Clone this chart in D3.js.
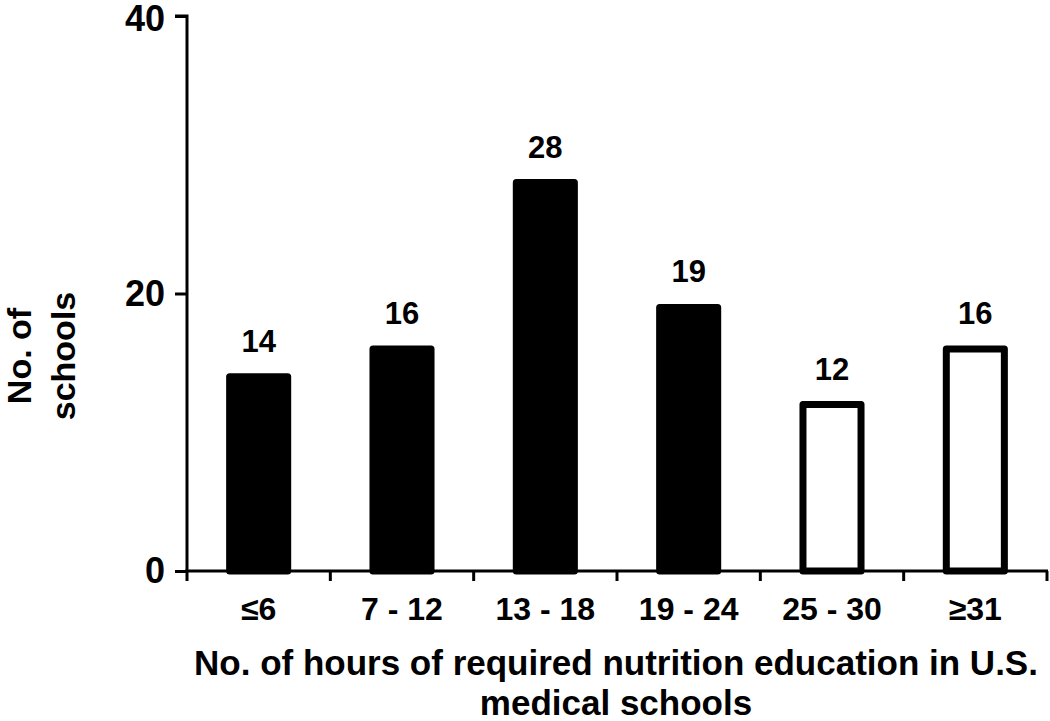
<!DOCTYPE html>
<html>
<head>
<meta charset="utf-8">
<script src="https://cdn.jsdelivr.net/npm/d3@7"></script>
<style>
  html, body { margin: 0; padding: 0; background: #fff; }
  svg { display: block; }
</style>
</head>
<body>
<div id="chart"></div>
<script>
// Horas de educación en nutrición requeridas vs. número de escuelas
const categories = ["≤6", "7 - 12", "13 - 18", "19 - 24", "25 - 30", "≥31"];
const schools    = [14, 16, 28, 19, 12, 16];
const solidBar   = [true, true, true, true, false, false];
const yTicks     = [0, 20, 40];

const width = 1050, height = 721;
const M = {top: 16, right: 3, bottom: 150, left: 187};
const innerW = width - M.left - M.right;
const innerH = height - M.top - M.bottom;

const font = "'Liberation Sans', Arial, Helvetica, sans-serif";

const x = d3.scaleBand().domain(categories).range([0, innerW]).padding(0);
const y = d3.scaleLinear().domain([0, 40]).range([innerH, 0]);
const barW = x.bandwidth() * 0.405;

const svg = d3.select("#chart").append("svg")
  .attr("width", width).attr("height", height)
  .style("font-family", font).style("font-weight", "bold");

const g = svg.append("g").attr("transform", `translate(${M.left},${M.top})`);

// ── Barras ──
const data = categories.map((c, i) => ({cat: c, v: schools[i], solid: solidBar[i]}));

g.selectAll("rect.bar").data(data).join("rect")
  .attr("class", "bar")
  .attr("x", d => x(d.cat) + (x.bandwidth() - barW) / 2)
  .attr("y", d => y(d.v))
  .attr("width", barW)
  .attr("height", d => y(0) - y(d.v))
  .attr("fill", d => d.solid ? "#000" : "#fff")
  .attr("stroke", "#000")
  .attr("stroke-width", 7)
  .attr("stroke-linejoin", "round");

// etiquetas de valor
g.selectAll("text.val").data(data).join("text")
  .attr("class", "val")
  .attr("x", d => x(d.cat) + x.bandwidth() / 2)
  .attr("y", d => y(d.v) - 25)
  .attr("text-anchor", "middle")
  .attr("font-size", 31)
  .attr("fill", "#000")
  .text(d => d.v);

// ── Eje Y ──
const yAxis = g.append("g")
  .call(d3.axisLeft(y).tickValues(yTicks).tickSize(12).tickPadding(10).tickFormat(d3.format("d")));
yAxis.select(".domain").attr("stroke", "#000").attr("stroke-width", 3)
  .attr("d", `M-12,${y(40)}H0V${innerH + 10}`);
yAxis.selectAll(".tick line").attr("stroke", "#000").attr("stroke-width", 3);
yAxis.selectAll(".tick text").attr("font-size", 36).attr("fill", "#000")
  .attr("font-family", font).attr("font-weight", "bold")
  .attr("y", d => d === 40 ? 3 : 0);   // la etiqueta superior queda pegada al borde

// ── Eje X ──
const bounds = d3.range(categories.length + 1).map(i => i * x.step());
const xAxis = g.append("g").attr("transform", `translate(0,${innerH})`);
xAxis.append("line")
  .attr("x1", -2).attr("x2", innerW + 1)
  .attr("stroke", "#000").attr("stroke-width", 3);
xAxis.selectAll("line.tk").data(bounds.slice(1)).join("line")
  .attr("class", "tk")
  .attr("x1", d => d).attr("x2", d => d)
  .attr("y1", 0).attr("y2", 10)
  .attr("stroke", "#000").attr("stroke-width", 3);
xAxis.selectAll("text.cat").data(categories).join("text")
  .attr("class", "cat")
  .attr("x", d => x(d) + x.bandwidth() / 2)
  .attr("y", 49)
  .attr("text-anchor", "middle")
  .attr("font-size", 32)
  .attr("fill", "#000")
  .text(d => d);

// ── Títulos ──
const xt = svg.append("text")
  .attr("text-anchor", "middle")
  .attr("font-size", 35)
  .attr("fill", "#000");
xt.append("tspan").attr("x", 616).attr("y", 675)
  .text("No. of hours of required nutrition education in U.S.");
xt.append("tspan").attr("x", 616).attr("y", 715)
  .text("medical schools");

const yt = svg.append("text")
  .attr("transform", "rotate(-90)")
  .attr("text-anchor", "middle")
  .attr("font-size", 34)
  .attr("fill", "#000");
yt.append("tspan").attr("x", -356).attr("y", 31).text("No. of");
yt.append("tspan").attr("x", -356).attr("y", 75).text("schools");
</script>
</body>
</html>
